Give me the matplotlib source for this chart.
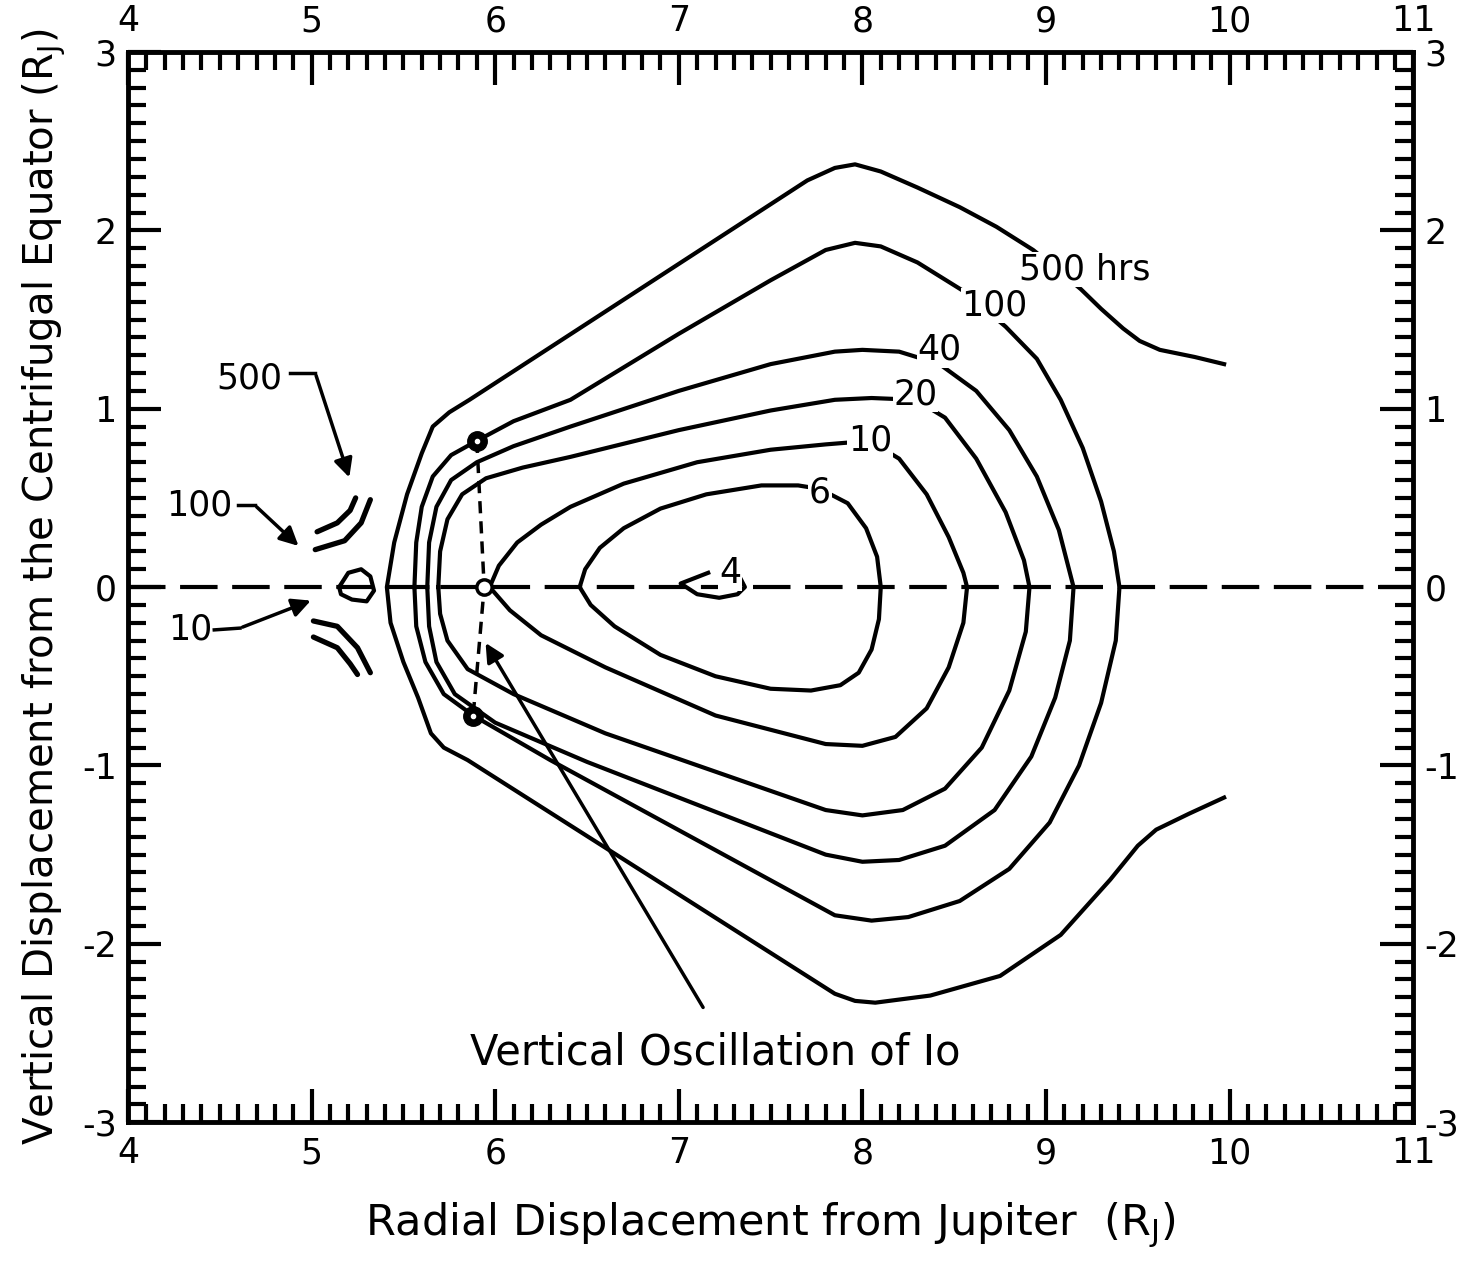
import numpy as np
import matplotlib.pyplot as plt
from matplotlib.ticker import MultipleLocator

plt.rcParams['font.family'] = 'DejaVu Sans'
plt.rcParams['axes.unicode_minus'] = False

# contour lines (x in R_J, y in R_J)
c500_x = [9.97, 9.81, 9.62, 9.51, 9.42, 9.30, 9.19, 9.05, 8.93, 8.73, 8.53, 8.30, 8.10, 7.96, 7.85, 7.70,
          5.86, 5.75, 5.66, 5.60, 5.52, 5.45, 5.41, 5.43, 5.50, 5.58, 5.65, 5.72, 5.85,
          7.85, 7.96, 8.07, 8.37, 8.75, 9.08, 9.35, 9.50, 9.60, 9.78, 9.97]
c500_y = [1.25, 1.29, 1.33, 1.38, 1.45, 1.56, 1.67, 1.79, 1.89, 2.02, 2.13, 2.24, 2.33, 2.37, 2.35, 2.28,
          1.05, 0.98, 0.90, 0.75, 0.52, 0.25, 0.00, -0.20, -0.42, -0.62, -0.82, -0.90, -0.97,
          -2.28, -2.32, -2.33, -2.29, -2.18, -1.95, -1.64, -1.45, -1.36, -1.27, -1.18]

c100_x = [5.56, 5.57, 5.60, 5.66, 5.76, 5.90, 6.10, 6.41, 7.00, 7.50, 7.80, 7.96, 8.10, 8.30, 8.55, 8.78,
          8.95, 9.08, 9.20, 9.30, 9.37, 9.40, 9.38, 9.30, 9.18, 9.02, 8.80, 8.53, 8.25, 8.05, 7.85,
          6.30, 5.88, 5.72, 5.62, 5.57, 5.56]
c100_y = [0.00, 0.25, 0.45, 0.62, 0.74, 0.82, 0.93, 1.05, 1.42, 1.72, 1.89, 1.93, 1.91, 1.82, 1.66, 1.46,
          1.28, 1.05, 0.78, 0.48, 0.20, 0.00, -0.30, -0.65, -1.00, -1.32, -1.58, -1.76, -1.85, -1.87, -1.84,
          -0.97, -0.72, -0.60, -0.42, -0.22, 0.00]

c40_x = [5.63, 5.64, 5.68, 5.76, 5.90, 6.10, 6.41, 7.00, 7.50, 7.85, 8.00, 8.20, 8.42, 8.62, 8.80, 8.95,
         9.07, 9.15, 9.13, 9.05, 8.92, 8.72, 8.45, 8.20, 8.00, 7.80, 6.50, 6.00, 5.78, 5.68, 5.64, 5.63]
c40_y = [0.00, 0.25, 0.45, 0.60, 0.70, 0.79, 0.90, 1.10, 1.25, 1.32, 1.33, 1.32, 1.25, 1.10, 0.88, 0.62,
         0.32, 0.00, -0.30, -0.62, -0.95, -1.25, -1.45, -1.53, -1.54, -1.50, -0.98, -0.76, -0.60, -0.42, -0.22, 0.00]

c20_x = [5.69, 5.70, 5.74, 5.82, 5.95, 6.15, 6.41, 7.00, 7.50, 7.85, 8.05, 8.29, 8.45, 8.62, 8.78, 8.88,
         8.91, 8.89, 8.80, 8.65, 8.45, 8.22, 8.00, 7.80, 6.60, 6.10, 5.85, 5.74, 5.70, 5.69]
c20_y = [0.00, 0.20, 0.38, 0.52, 0.61, 0.67, 0.73, 0.88, 0.99, 1.05, 1.06, 1.05, 0.95, 0.72, 0.42, 0.15,
         0.00, -0.25, -0.58, -0.90, -1.13, -1.25, -1.28, -1.25, -0.82, -0.60, -0.46, -0.30, -0.15, 0.00]

c10_x = [5.97, 6.02, 6.12, 6.25, 6.41, 6.70, 7.10, 7.50, 7.80, 8.04, 8.20, 8.35, 8.47, 8.55, 8.57,
         8.55, 8.47, 8.35, 8.18, 8.00, 7.80, 7.20, 6.60, 6.25, 6.08, 5.97]
c10_y = [0.00, 0.12, 0.25, 0.35, 0.45, 0.58, 0.70, 0.77, 0.80, 0.82, 0.72, 0.52, 0.28, 0.08, 0.00,
         -0.20, -0.45, -0.68, -0.84, -0.89, -0.88, -0.72, -0.45, -0.27, -0.13, 0.00]

c6_x = [6.46, 6.49, 6.57, 6.70, 6.90, 7.15, 7.45, 7.65, 7.77, 7.92, 8.02, 8.08, 8.10, 8.09, 8.05, 7.98,
        7.88, 7.72, 7.50, 7.20, 6.90, 6.65, 6.52, 6.46]
c6_y = [0.00, 0.10, 0.22, 0.33, 0.44, 0.52, 0.57, 0.57, 0.55, 0.47, 0.33, 0.17, 0.00, -0.18, -0.35, -0.48,
        -0.55, -0.58, -0.57, -0.50, -0.38, -0.22, -0.10, 0.00]

c4_x = [7.16, 7.01, 7.10, 7.22, 7.32, 7.36, 7.34]
c4_y = [0.08, 0.02, -0.04, -0.06, -0.04, 0.00, 0.04]

blob_x = [5.15, 5.20, 5.27, 5.32, 5.34, 5.30, 5.22, 5.16, 5.15]
blob_y = [0.00, 0.08, 0.10, 0.06, -0.02, -0.08, -0.07, -0.04, 0.00]

arcs = [
    ([5.32, 5.27, 5.18, 5.02], [0.49, 0.36, 0.26, 0.21]),
    ([5.24, 5.21, 5.14, 5.03], [0.50, 0.43, 0.36, 0.31]),
    ([5.01, 5.14, 5.25, 5.32], [-0.19, -0.22, -0.34, -0.48]),
    ([5.01, 5.14, 5.21, 5.25], [-0.28, -0.34, -0.43, -0.49]),
]

# Io positions along its vertical oscillation
io_x = [5.90, 5.94, 5.88]
io_y = [0.82, 0.00, -0.72]

contour_labels = ['500 hrs', '100', '40', '20', '10', '6', '4']
label_x = [9.21, 8.72, 8.42, 8.29, 8.04, 7.77, 7.28]
label_y = [1.78, 1.58, 1.33, 1.08, 0.82, 0.53, 0.08]

fig = plt.figure(figsize=(14.66, 12.68), dpi=100)
ax = fig.add_axes([0.0873, 0.115, 0.8767, 0.844])

lw = 3
for cx, cy in [(c500_x, c500_y), (c100_x, c100_y), (c40_x, c40_y), (c20_x, c20_y),
               (c10_x, c10_y), (c6_x, c6_y), (c4_x, c4_y), (blob_x, blob_y)]:
    ax.plot(cx, cy, 'k-', lw=lw, solid_joinstyle='round', zorder=3)
for ax_, ay_ in arcs:
    ax.plot(ax_, ay_, 'k-', lw=3.8, solid_capstyle='round', zorder=3)

# equator
ax.plot([4, 11], [0, 0], 'k--', lw=3, dashes=(9, 3.5), zorder=2)

# Io path
ax.plot(io_x, io_y, 'k--', lw=2.5, dashes=(3.5, 2.3), zorder=2)
ax.plot([io_x[0], io_x[2]], [io_y[0], io_y[2]], 'o', ms=14, mfc='k', mec='k', zorder=5)
ax.plot([io_x[0], io_x[2]], [io_y[0], io_y[2]], 'o', ms=3, mfc='w', mec='w', zorder=6)
ax.plot([io_x[1]], [io_y[1]], 'o', ms=11, mfc='w', mec='k', mew=2.5, zorder=5)

for t, x, y in zip(contour_labels, label_x, label_y):
    ax.text(x, y, t, fontsize=25, ha='center', va='center', zorder=7,
            bbox=dict(facecolor='white', edgecolor='none', pad=0.5))

# annotations on the left
ap = dict(arrowstyle='-|>', color='k', lw=2.5, mutation_scale=28)
ax.text(4.66, 1.17, '500', fontsize=25, ha='center', va='center')
ax.plot([4.88, 5.02], [1.20, 1.20], 'k-', lw=2.5)
ax.annotate('', xy=(5.21, 0.60), xytext=(5.02, 1.20), arrowprops=ap)
ax.text(4.39, 0.46, '100', fontsize=25, ha='center', va='center')
ax.plot([4.60, 4.69], [0.46, 0.46], 'k-', lw=2.5)
ax.annotate('', xy=(4.94, 0.22), xytext=(4.69, 0.46), arrowprops=ap)
ax.text(4.34, -0.24, '10', fontsize=25, ha='center', va='center')
ax.plot([4.47, 4.61], [-0.24, -0.23], 'k-', lw=2.5)
ax.annotate('', xy=(5.01, -0.07), xytext=(4.61, -0.23), arrowprops=ap)

ax.text(7.20, -2.61, 'Vertical Oscillation of Io', fontsize=30, ha='center', va='center')
ax.annotate('', xy=(5.94, -0.30), xytext=(7.14, -2.37), arrowprops=ap)

ax.set_xlim(4, 11)
ax.set_ylim(-3, 3)
ax.xaxis.set_major_locator(MultipleLocator(1))
ax.xaxis.set_minor_locator(MultipleLocator(0.1))
ax.yaxis.set_major_locator(MultipleLocator(1))
ax.yaxis.set_minor_locator(MultipleLocator(0.1))
ax.tick_params(which='both', direction='in', top=True, right=True,
               labeltop=True, labelright=True, labelsize=25, width=3)
ax.tick_params(axis='x', pad=10)
ax.tick_params(axis='y', pad=8)
ax.tick_params(which='major', length=24)
ax.tick_params(which='minor', length=13)
for s in ax.spines.values():
    s.set_linewidth(3.5)

ax.set_xlabel('Radial Displacement from Jupiter  (R$_\\mathrm{J}$)', fontsize=31, labelpad=22)
ax.set_ylabel('Vertical Displacement from the Centrifugal Equator (R$_\\mathrm{J}$)', fontsize=29, labelpad=10)

plt.savefig('out.png', dpi=100)
